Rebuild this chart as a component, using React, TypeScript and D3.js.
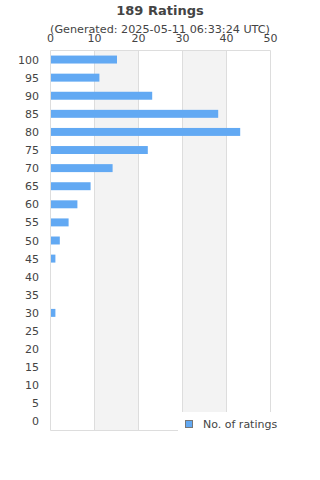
import React from "react";
import * as d3 from "d3";

const categories = ["100", "95", "90", "85", "80", "75", "70", "65", "60", "55", "50", "45", "40", "35", "30", "25", "20", "15", "10", "5", "0"];
const counts = [15, 11, 23, 38, 43, 22, 14, 9, 6, 4, 2, 1, 0, 0, 1, 0, 0, 0, 0, 0, 0];
const xTicks = [0, 10, 20, 30, 40, 50];
const title = "189 Ratings";
const subtitle = "(Generated: 2025-05-11 06:33:24 UTC)";
const seriesName = "No. of ratings";

const W = 320, H = 480;
const left = 50.5, right = 270.5, top = 50.5, bottom = 430.5;
const font = "'DejaVu Sans', sans-serif";
const barColor = "#62a9f3";
const textColor = "#444";

export default function App() {
  const x = d3.scaleLinear().domain([0, 50]).range([left, right]);
  const y = d3.scaleBand<string>().domain(categories).range([top, bottom]).paddingInner(0.56).paddingOuter(0.28);
  const bands = d3.range(0, 50, 10);
  return (
    <svg width={W} height={H} style={{ position: "absolute", left: 0, top: 0, background: "#fff" }}>
      <text x={160} y={15} textAnchor="middle" fontFamily={font} fontWeight="bold" fontSize={13} fill={textColor}>{title}</text>
      <text x={160} y={33} textAnchor="middle" fontFamily={font} fontSize={11.2} fill={textColor}>{subtitle}</text>
      {bands.map((b, i) => i % 2 === 1 ? (
        <rect key={"b" + b} x={x(b)} y={top} width={x(b + 10) - x(b)} height={bottom - top} fill="#f3f3f3" />
      ) : null)}
      {xTicks.map(t => (
        <g key={"t" + t}>
          <line x1={x(t)} x2={x(t)} y1={top} y2={bottom} stroke="#dddddd" strokeWidth={1} />
          <text x={x(t)} y={42} textAnchor="middle" fontFamily={font} fontSize={11} fill={textColor}>{t}</text>
        </g>
      ))}
      <line x1={left} x2={right} y1={top} y2={top} stroke="#dddddd" />
      <line x1={left} x2={right} y1={bottom} y2={bottom} stroke="#dddddd" />
      {categories.map((c, i) => (
        <g key={"c" + c}>
          <text x={39} y={(y(c) ?? 0) + y.bandwidth() / 2 + 4} textAnchor="end" fontFamily={font} fontSize={11} fill={textColor}>{c}</text>
          {counts[i] > 0 ? (
            <rect x={x(0) + 0.5} y={y(c)} width={x(counts[i]) - x(0)} height={y.bandwidth()} fill={barColor} />
          ) : null}
        </g>
      ))}
      <rect x={178} y={412} width={110} height={20} fill="#fff" />
      <rect x={185.5} y={420.5} width={7} height={7} fill={barColor} stroke="#777" strokeWidth={1} />
      <text x={203} y={428} fontFamily={font} fontSize={11} fill={textColor}>{seriesName}</text>
    </svg>
  );
}
